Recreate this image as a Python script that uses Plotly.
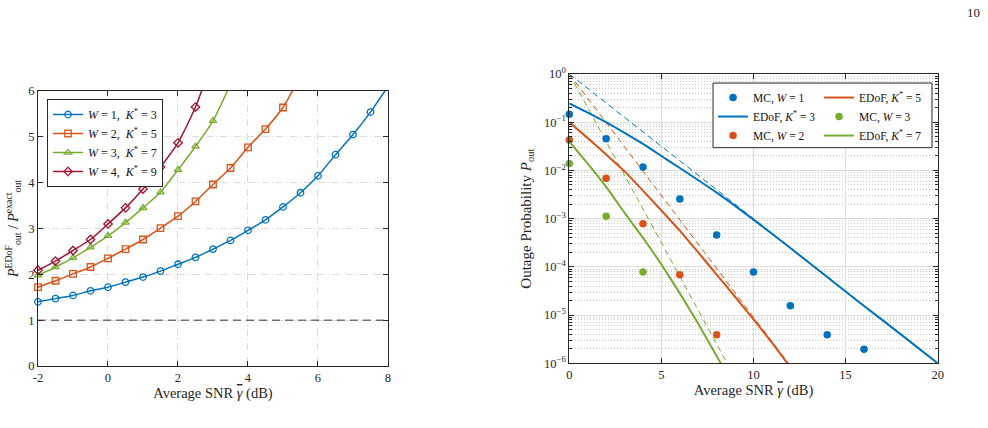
import plotly.graph_objects as go

# ---------------- Left panel data ----------------
snr_left = [-2, -1.5, -1, -0.5, 0, 0.5, 1, 1.5, 2, 2.5, 3, 3.5, 4, 4.5, 5, 5.5, 6, 6.5, 7, 7.5, 8]
ratio_w1 = [1.40, 1.47, 1.54, 1.64, 1.72, 1.83, 1.94, 2.07, 2.22, 2.37, 2.55, 2.74, 2.96, 3.19, 3.47, 3.78, 4.15, 4.61, 5.05, 5.54, 6.10]
ratio_w2 = [1.72, 1.86, 2.01, 2.16, 2.35, 2.55, 2.76, 3.01, 3.27, 3.59, 3.96, 4.32, 4.77, 5.17, 5.64, 6.33]
ratio_w3 = [1.98, 2.16, 2.36, 2.59, 2.84, 3.13, 3.45, 3.79, 4.28, 4.79, 5.35, 6.15]
ratio_w4 = [2.09, 2.29, 2.52, 2.76, 3.10, 3.45, 3.86, 4.34, 4.87, 5.65, 6.70]
ref_x = [-2, 8]
ref_y = [1, 1]
left_names = ["<i>W</i> = 1,  <i>K</i><sup>*</sup> = 3",
              "<i>W</i> = 2,  <i>K</i><sup>*</sup> = 5",
              "<i>W</i> = 3,  <i>K</i><sup>*</sup> = 7",
              "<i>W</i> = 4,  <i>K</i><sup>*</sup> = 9"]
left_ymax = 6

# ---------------- Right panel data ----------------
mc_x_w1 = [0, 2, 4, 6, 8, 10, 12, 14, 16]
mc_y_w1 = [0.146, 0.0456, 0.0118, 0.00256, 4.6e-4, 7.8e-5, 1.57e-5, 3.9e-6, 1.95e-6]
mc_x_w2 = [0, 2, 4, 6, 8]
mc_y_w2 = [0.0428, 0.0069, 7.8e-4, 6.9e-5, 3.9e-6]
mc_x_w3 = [0, 2, 4]
mc_y_w3 = [0.0140, 0.00112, 7.8e-5]

edof_x_k3 = [0, 1, 2, 3, 4, 5, 6, 8, 10, 12, 14, 16, 18, 20]
edof_log_k3 = [-0.61, -0.80, -1.00, -1.22, -1.45, -1.70, -1.95, -2.46, -3.02, -3.61, -4.21, -4.81, -5.40, -6.0]
edof_x_k5 = [0, 1, 2, 3, 4, 5, 6, 7, 8, 9, 10, 11, 11.84]
edof_log_k5 = [-1.0, -1.33, -1.67, -2.02, -2.42, -2.83, -3.25, -3.70, -4.16, -4.62, -5.09, -5.57, -6.0]
edof_x_k7 = [0, 1, 2, 3, 4, 5, 6, 7, 8, 8.22]
edof_log_k7 = [-1.40, -1.86, -2.34, -2.88, -3.40, -3.95, -4.55, -5.18, -5.85, -6.0]

asym_x_k3 = [0, 20]
asym_y_k3 = [1.0, 1e-6]
asym_x_k5 = [0, 11.9]
asym_y_k5 = [1.0, 1e-6]
asym_x_k7 = [0, 8.57]
asym_y_k7 = [1.0, 1e-6]

ytick_vals = [1e-6, 1e-5, 1e-4, 1e-3, 1e-2, 1e-1, 1]
ytick_text = ["10<sup>−6</sup>", "10<sup>−5</sup>", "10<sup>−4</sup>", "10<sup>−3</sup>",
              "10<sup>−2</sup>", "10<sup>−1</sup>", "10<sup>0</sup>"]
left_xtick_vals = [-2, 0, 2, 4, 6, 8]
left_xtick_text = ["-2", "0", "2", "4", "6", "8"]

BLUE = "#0072BD"
ORANGE = "#D95319"
GREEN = "#77AC30"
RED = "#A2142F"
AX = "#262626"
FONT = "Liberation Serif"
GAMMA = "<span style='text-decoration:overline'><i>γ</i></span>"

fig = go.Figure()

# Left panel traces
left_series = [(ratio_w1, BLUE, "circle-open"), (ratio_w2, ORANGE, "square-open"),
               (ratio_w3, GREEN, "triangle-up-open"), (ratio_w4, RED, "diamond-open")]
for (ys, col, sym), name in zip(left_series, left_names):
    fig.add_trace(go.Scatter(
        x=snr_left[:len(ys)], y=ys, mode="lines+markers", name=name, cliponaxis=False,
        line=dict(color=col, width=1.5, shape="spline", smoothing=0.6),
        marker=dict(symbol=sym, size=6.5, color=col, line=dict(width=1.3, color=col),
                    opacity=[1 if v <= left_ymax else 0 for v in ys]),
        xaxis="x", yaxis="y", legend="legend"))
fig.add_trace(go.Scatter(x=ref_x, y=ref_y, mode="lines", showlegend=False,
                         line=dict(color="#333333", width=1, dash="8px,5px"),
                         xaxis="x", yaxis="y"))

# Right panel: asymptotic dashed
for xs, ys, col in [(asym_x_k3, asym_y_k3, BLUE), (asym_x_k5, asym_y_k5, ORANGE), (asym_x_k7, asym_y_k7, GREEN)]:
    fig.add_trace(go.Scatter(x=xs, y=ys, mode="lines", showlegend=False,
                             line=dict(color=col, width=1, dash="6px,4px"),
                             xaxis="x2", yaxis="y2"))

def mc(xs, ys, col, name, leg):
    return go.Scatter(x=xs, y=ys, mode="markers", name=name, cliponaxis=False,
                      marker=dict(color=col, size=7.5, symbol="circle"),
                      xaxis="x2", yaxis="y2", legend=leg)

def ed(xs, logs, col, name, leg):
    return go.Scatter(x=xs, y=[10 ** v for v in logs], mode="lines", name=name,
                      line=dict(color=col, width=2, shape="spline", smoothing=0.4),
                      xaxis="x2", yaxis="y2", legend=leg)

fig.add_trace(mc(mc_x_w1, mc_y_w1, BLUE, "MC, <i>W</i> = 1", "legend2"))
fig.add_trace(ed(edof_x_k3, edof_log_k3, BLUE, "EDoF, <i>K</i><sup>*</sup> = 3", "legend2"))
fig.add_trace(mc(mc_x_w2, mc_y_w2, ORANGE, "MC, <i>W</i> = 2", "legend2"))
fig.add_trace(ed(edof_x_k5, edof_log_k5, ORANGE, "EDoF, <i>K</i><sup>*</sup> = 5", "legend3"))
fig.add_trace(mc(mc_x_w3, mc_y_w3, GREEN, "MC, <i>W</i> = 3", "legend3"))
fig.add_trace(ed(edof_x_k7, edof_log_k7, GREEN, "EDoF, <i>K</i><sup>*</sup> = 7", "legend3"))

axis_common = dict(showline=True, linecolor=AX, linewidth=1, mirror="ticks",
                   ticks="inside", ticklen=5, tickcolor=AX, zeroline=False, automargin=False,
                   tickfont=dict(family=FONT, size=12.5, color=AX))

fig.update_layout(
    width=988, height=428, margin=dict(l=0, r=0, t=0, b=0, autoexpand=False),
    paper_bgcolor="white", plot_bgcolor="white",
    font=dict(family=FONT, color=AX),
    xaxis=dict(domain=[0.03846, 0.39271], range=[-2, 8],
               tickmode="array", tickvals=left_xtick_vals, ticktext=left_xtick_text,
               showgrid=True, gridcolor="#dcdcdc", griddash="7px,3px,1px,3px", gridwidth=1,
               title=dict(text="Average SNR " + GAMMA + " (dB)", font=dict(size=14.5), standoff=3),
               anchor="y", **axis_common),
    yaxis=dict(domain=[0.14486, 0.78738], range=[0, left_ymax], tickvals=[0, 1, 2, 3, 4, 5, 6],
               showgrid=True, gridcolor="#dcdcdc", griddash="7px,3px,1px,3px", gridwidth=1,
               title=dict(text="<i>P</i><sup>EDoF</sup><sub>out</sub> / <i>P</i><sup>exact</sup><sub>out</sub>",
                          font=dict(size=14), standoff=6),
               anchor="x", **axis_common),
    xaxis2=dict(domain=[0.57622, 0.94909], range=[0, 20], tickvals=[0, 5, 10, 15, 20],
                showgrid=True, gridcolor="#dedede", gridwidth=1,
                title=dict(text="Average SNR " + GAMMA + " (dB)", font=dict(size=14.5), standoff=3),
                anchor="y2", **axis_common),
    yaxis2=dict(domain=[0.15117, 0.82710], type="log", range=[-6, 0],
                tickmode="array", tickvals=ytick_vals, ticktext=ytick_text,
                showgrid=True, gridcolor="#dedede", gridwidth=1,
                minor=dict(dtick="D1", ticks="inside", ticklen=3, tickcolor=AX,
                           showgrid=True, gridcolor="#c8c8c8", griddash="1px,2px", gridwidth=1),
                title=dict(text="Outage Probability <i>P</i><sub>out</sub>", font=dict(size=15), standoff=8),
                anchor="x2", **axis_common),
    legend=dict(x=0.0476, y=0.7687, xanchor="left", yanchor="top",
                bgcolor="white", bordercolor=AX, borderwidth=1, itemwidth=30,
                font=dict(family=FONT, size=12, color="#111111"), tracegroupgap=0),
    legend2=dict(x=0.7217, y=0.806, xanchor="left", yanchor="top",
                 bgcolor="rgba(0,0,0,0)", borderwidth=0, itemwidth=30,
                 font=dict(family=FONT, size=11.5, color="#111111")),
    legend3=dict(x=0.829, y=0.806, xanchor="left", yanchor="top",
                 bgcolor="rgba(0,0,0,0)", borderwidth=0, itemwidth=30,
                 font=dict(family=FONT, size=11.5, color="#111111")),
    showlegend=True,
)

fig.add_shape(type="rect", xref="paper", yref="paper",
              x0=0.7217, x1=0.9433, y0=0.655, y1=0.806,
              line=dict(color=AX, width=1), fillcolor="white", layer="above")

fig.add_annotation(text="10", xref="paper", yref="paper", x=982 / 988, y=1 - 12 / 428,
                   xanchor="right", yanchor="middle", showarrow=False,
                   font=dict(family=FONT, size=13, color="#222222"))

fig.write_html("out.html")
